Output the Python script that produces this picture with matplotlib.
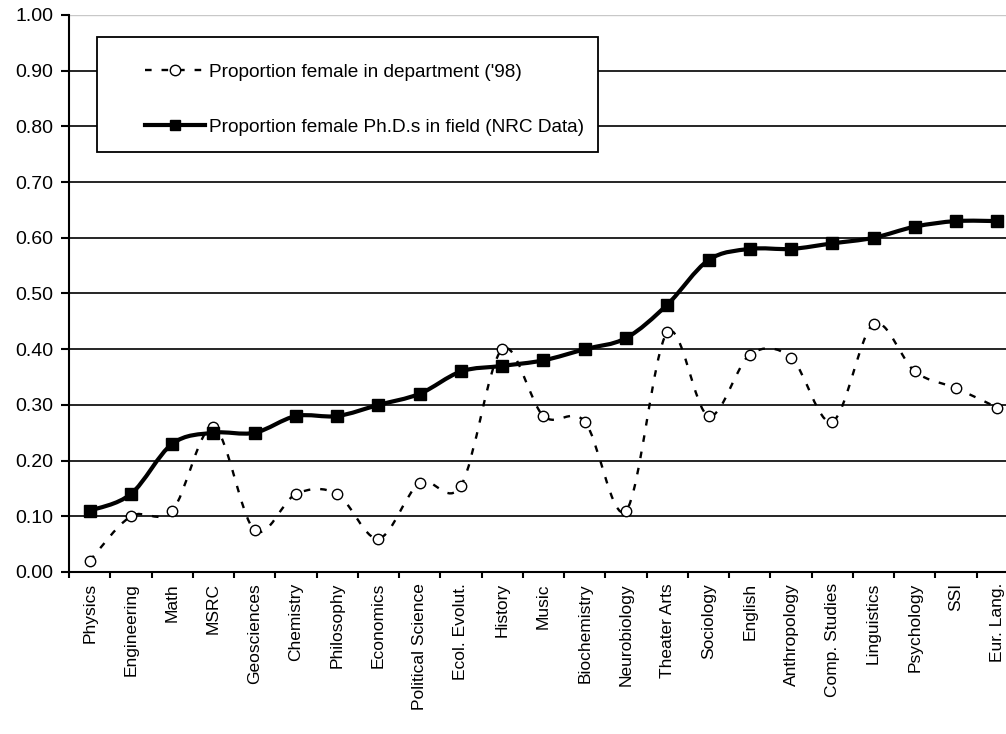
import numpy as np
import matplotlib
matplotlib.use('Agg')
import matplotlib.pyplot as plt
from matplotlib.path import Path
from matplotlib.patches import PathPatch, Rectangle
from matplotlib.lines import Line2D
from matplotlib.ticker import MultipleLocator, FixedLocator

plt.rcParams['font.family'] = ['Liberation Sans', 'DejaVu Sans']

departments = ['Physics', 'Engineering', 'Math', 'MSRC', 'Geosciences', 'Chemistry',
               'Philosophy', 'Economics', 'Political Science', 'Ecol. Evolut.', 'History',
               'Music', 'Biochemistry', 'Neurobiology', 'Theater Arts', 'Sociology',
               'English', 'Anthropology', 'Comp. Studies', 'Linguistics', 'Psychology',
               'SSI', 'Eur. Lang.']
female_dept_98 = [0.02, 0.10, 0.11, 0.26, 0.075, 0.14, 0.14, 0.06, 0.16, 0.155, 0.40,
                  0.28, 0.27, 0.11, 0.43, 0.28, 0.39, 0.385, 0.27, 0.445, 0.36, 0.33, 0.295]
female_phd_nrc = [0.11, 0.14, 0.23, 0.25, 0.25, 0.28, 0.28, 0.30, 0.32, 0.36, 0.37,
                  0.38, 0.40, 0.42, 0.48, 0.56, 0.58, 0.58, 0.59, 0.60, 0.62, 0.63, 0.63]
label_dept = "Proportion female in department ('98)"
label_nrc = 'Proportion female Ph.D.s in field (NRC Data)'

DASH = (0, (2.8, 4.2))


def smooth_path(xs, ys):
    """spreadsheet-style smoothed line: cubic bezier segments through every point"""
    pts = np.column_stack([xs, ys]).astype(float)
    n = len(pts)
    verts = [pts[0]]
    codes = [Path.MOVETO]
    for i in range(n - 1):
        p0 = pts[i - 1] if i > 0 else pts[i]
        p1 = pts[i]
        p2 = pts[i + 1]
        p3 = pts[i + 2] if i + 2 < n else pts[i + 1]
        c1 = p1 + (p2 - p0) / 6.0
        c2 = p2 - (p3 - p1) / 6.0
        verts += [c1, c2, p2]
        codes += [Path.CURVE4] * 3
    return Path(verts, codes)


fig = plt.figure(figsize=(10.06, 7.34), dpi=100)
ax = fig.add_axes([69 / 1006, 1 - 572 / 734, (1018 - 69) / 1006, (572 - 15) / 734])

x = np.arange(len(departments))

ax.add_patch(PathPatch(smooth_path(x, female_dept_98), fill=False, edgecolor='black',
                       linewidth=1.7, linestyle=DASH, zorder=3))
ax.plot(x, female_dept_98, linestyle='none', marker='o', markersize=7.5,
        markerfacecolor='white', markeredgecolor='black', markeredgewidth=1.0, zorder=4)

ax.add_patch(PathPatch(smooth_path(x, female_phd_nrc), fill=False, edgecolor='black',
                       linewidth=3.0, zorder=3))
ax.plot(x, female_phd_nrc, linestyle='none', marker='s', markersize=8,
        color='black', zorder=4)

ax.set_xlim(-0.5, len(departments) - 0.5)
ax.set_ylim(0, 1.0)

# gridlines at every 0.1, the top one is only the faint plot border
for v in np.arange(0.1, 0.95, 0.1):
    ax.axhline(v, color='black', linewidth=1.2, zorder=1)
ax.axhline(1.0, color='#c8c8c8', linewidth=1.0, zorder=1)

for side in ['top', 'right']:
    ax.spines[side].set_visible(False)
for side in ['left', 'bottom']:
    ax.spines[side].set_linewidth(1.5)
    ax.spines[side].set_zorder(5)

ax.yaxis.set_major_locator(MultipleLocator(0.1))
ax.yaxis.set_major_formatter(plt.FuncFormatter(lambda v, p: '{:.2f}'.format(v)))
ax.tick_params(axis='y', direction='out', length=5.8, width=1.5, labelsize=14, pad=5.5)

ax.xaxis.set_major_locator(FixedLocator(x))
ax.set_xticklabels(departments, rotation=90, fontsize=12.5)
ax.xaxis.set_minor_locator(FixedLocator(np.arange(len(departments) + 1) - 0.5))
ax.tick_params(axis='x', which='major', length=0, pad=8)
ax.tick_params(axis='x', which='minor', direction='out', length=4.5, width=1.5)

# legend box drawn in figure pixels
box = Rectangle((97 / 1006, 1 - 152 / 734), 501 / 1006, 115 / 734, transform=fig.transFigure,
                facecolor='white', edgecolor='black', linewidth=1.3, zorder=6)
fig.patches.append(box)

handles = [Line2D([], [], color='black', linewidth=1.7, linestyle=DASH,
                  marker='o', markersize=7.5, markerfacecolor='white', markeredgewidth=1.0),
           Line2D([], [], color='black', linewidth=3.0, marker='s', markersize=7)]
leg = fig.legend(handles, [label_dept, label_nrc], loc='center left',
                 bbox_to_anchor=(145 / 1006, 1 - 99.5 / 734), frameon=False,
                 fontsize=13.7, handlelength=3.15, handletextpad=0.2, labelspacing=1.98,
                 borderpad=0, borderaxespad=0)
leg.set_zorder(7)

fig.savefig('out.png', dpi=100)
